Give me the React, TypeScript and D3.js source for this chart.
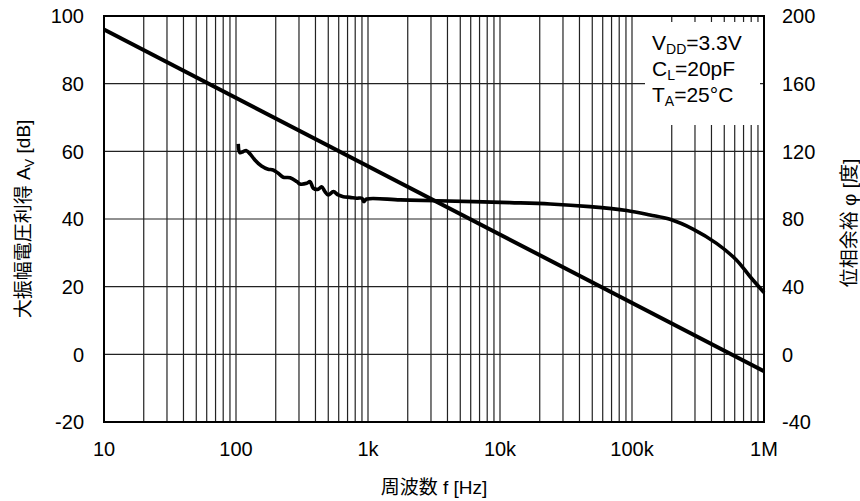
import React from "react";
import * as d3 from "d3";

const xTickValues = [10, 100, 1000, 10000, 100000, 1000000];
const xTickLabels = ["10", "100", "1k", "10k", "100k", "1M"];
const leftTicks = [-20, 0, 20, 40, 60, 80, 100];
const rightTicks = [-40, 0, 40, 80, 120, 160, 200];

const gainFreq = [10, 1000000];
const gainDb = [96, -5];

const phaseFreq = [
  104, 107, 113, 120, 128, 139, 156, 175, 191, 209, 228, 257, 289, 305, 343, 364,
  385, 420, 445, 472, 500, 547, 594, 650, 730, 822, 899, 930, 977, 1750, 3300,
  11900, 24000, 48000, 91000, 137000, 194000, 292000, 437000, 618000, 783000, 1000000,
];
const phaseDeg = [
  124.4, 119.2, 119.8, 120.4, 118.4, 114.9, 111.3, 109.4, 109, 107, 104.7, 104.4,
  102.1, 100.7, 101.1, 102.1, 98.2, 97.6, 99.1, 96.2, 94.2, 96.2, 94.2, 93.2, 92.8,
  92.3, 92.3, 90.3, 91.8, 91.3, 90.8, 89.7, 88.9, 87.3, 85.0, 82.4, 79.8, 73.9,
  65.6, 55.8, 46.0, 36.5,
];

const W = 860;
const H = 501;
const L = 104, R = 764, T = 16, B = 422;
const FONT = "'Liberation Sans', Arial, 'Noto Sans CJK JP', sans-serif";

export default function App() {
  const x = d3.scaleLog().domain([10, 1000000]).range([L, R]);
  const yL = d3.scaleLinear().domain([-20, 100]).range([B, T]);
  const yR = d3.scaleLinear().domain([-40, 200]).range([B, T]);

  const minor: number[] = [];
  for (let e = 1; e <= 5; e++) {
    for (let k = 1; k <= 9; k++) minor.push(k * Math.pow(10, e));
  }

  const gainLine = d3
    .line<number>()
    .x((_, i) => x(gainFreq[i]))
    .y((d) => yL(d));
  const phaseLine = d3
    .line<number>()
    .x((_, i) => x(phaseFreq[i]))
    .y((d) => yR(d))
    .curve(d3.curveCatmullRom.alpha(0.5));

  return (
    <svg
      width={W}
      height={H}
      style={{ position: "absolute", left: 0, top: 0, background: "#fff" }}
      fontFamily={FONT}
    >
      <rect x={0} y={0} width={W} height={H} fill="#fff" />
      {minor.map((f, i) => (
        <line key={"v" + i} x1={x(f)} x2={x(f)} y1={T} y2={B} stroke="#222" strokeWidth={1.2} />
      ))}
      {leftTicks.map((v, i) => (
        <line key={"h" + i} x1={L} x2={R} y1={yL(v)} y2={yL(v)} stroke="#222" strokeWidth={1.2} />
      ))}
      <rect x={645} y={22} width={115} height={103} fill="#fff" />
      <path d={gainLine(gainDb) || ""} fill="none" stroke="#000" strokeWidth={4} />
      <path d={phaseLine(phaseDeg) || ""} fill="none" stroke="#000" strokeWidth={3.6} strokeLinejoin="round" />
      <rect x={L} y={T} width={R - L} height={B - T} fill="none" stroke="#000" strokeWidth={2} />

      {leftTicks.map((v, i) => (
        <text key={"lt" + i} x={L - 20} y={yL(v)} dy="0.36em" textAnchor="end" fontSize={20}>
          {v}
        </text>
      ))}
      {rightTicks.map((v, i) => (
        <text key={"rt" + i} x={R + 18} y={yR(v)} dy="0.36em" textAnchor="start" fontSize={20}>
          {v}
        </text>
      ))}
      {xTickValues.map((v, i) => (
        <text key={"xt" + i} x={x(v)} y={456} textAnchor="middle" fontSize={20}>
          {xTickLabels[i]}
        </text>
      ))}

      <text x={(L + R) / 2} y={494} textAnchor="middle" fontSize={19}>
        周波数 f [Hz]
      </text>
      <text transform={`translate(30, ${(T + B) / 2}) rotate(-90)`} textAnchor="middle" fontSize={19}>
        大振幅電圧利得 A<tspan fontSize={13} dy={4}>V</tspan>
        <tspan dy={-4}> [dB]</tspan>
      </text>
      <text transform={`translate(856, ${(T + B) / 2 + 4}) rotate(-90)`} textAnchor="middle" fontSize={19}>
        位相余裕 φ [度]
      </text>

      <g fontSize={21}>
        <text x={652} y={50}>
          V<tspan fontSize={14} dy={4}>DD</tspan>
          <tspan dy={-4}>=3.3V</tspan>
        </text>
        <text x={652} y={76}>
          C<tspan fontSize={14} dy={4}>L</tspan>
          <tspan dy={-4}>=20pF</tspan>
        </text>
        <text x={652} y={102}>
          T<tspan fontSize={14} dy={4}>A</tspan>
          <tspan dy={-4}>=25°C</tspan>
        </text>
      </g>
    </svg>
  );
}
